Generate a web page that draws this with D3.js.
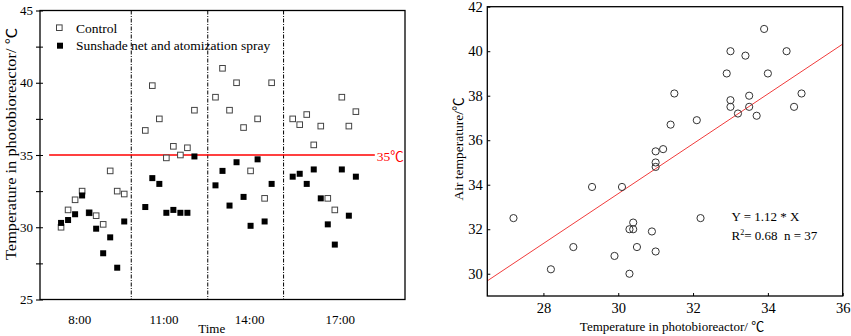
<!DOCTYPE html>
<html>
<head>
<meta charset="utf-8">
<script src="https://cdn.jsdelivr.net/npm/d3@7"></script>
<style>
  html, body { margin: 0; padding: 0; background: #fff; }
  svg { display: block; }
  text { font-family: "Liberation Serif", "Noto Sans CJK SC", serif; fill: #000; }
</style>
</head>
<body>
<div id="chart"></div>
<script>
// LEFT PANEL DATA (one array per time slot)
var timeLabels = ['8:00', '11:00', '14:00', '17:00'];
var timeTickAt = [2.6, 14.6, 26.8, 39.7];     // sample index under each label
var dividerAt = [10, 20.9, 31.7];             // dash-dot separators, sample index
var groupGap = 3;

var control = [
	[30.0, 31.2, 31.9, 32.5, 31.0, 30.8, 30.2, 33.9, 32.5, 32.3],
	[36.7, 39.8, 37.5, 34.8, 35.6, 35.0, 35.5, 38.1],
	[39.0, 41.0, 38.1, 40.0, 36.9, 33.9, 37.5, 32.0, 40.0],
	[37.5, 37.1, 37.8, 35.7, 37.0, 32.0, 31.2, 39.0, 37.0, 38.0]
];
var sunshade = [
	[30.3, 30.5, 30.9, 32.2, 31.0, 29.9, 28.2, 29.3, 27.2, 30.4],
	[31.4, 33.4, 33.0, 31.0, 31.2, 31.0, 31.0, 34.9],
	[32.9, 33.9, 31.5, 34.5, 32.1, 30.1, 34.7, 30.4, 33.0],
	[33.5, 33.7, 33.0, 34.0, 32.0, 30.2, 28.8, 34.0, 30.8, 33.5]
];
var threshold = 35;
var thresholdSpan = [-1.7, 44.7];

// RIGHT PANEL DATA
var photoTemp = [27.2, 28.2, 28.8, 29.3, 29.9, 30.1, 30.3, 30.3, 30.4, 30.4, 30.5, 30.9,
	31.0, 31.0, 31.0, 31.0, 31.2, 31.4, 31.5, 32.1, 32.2, 32.9, 33.0, 33.0, 33.0, 33.2,
	33.4, 33.5, 33.5, 33.7, 33.9, 34.0, 34.5, 34.7, 34.9];
var airTemp = [32.5, 30.2, 31.2, 33.9, 30.8, 33.9, 30.0, 32.0, 32.3, 32.0, 31.2, 31.9,
	31.0, 35.5, 35.0, 34.8, 35.6, 36.7, 38.1, 36.9, 32.5, 39.0, 40.0, 37.8, 37.5, 37.2,
	39.8, 38.0, 37.5, 37.1, 41.0, 39.0, 40.0, 37.5, 38.1];
var slope = 1.12;
var r2 = 0.68;
var nObs = 37;

var width = 851, height = 336;

var svg = d3.select('#chart').append('svg')
	.attr('width', width)
	.attr('height', height);

///////////////////////////////////////////
////////////// LEFT PANEL /////////////////
///////////////////////////////////////////
var xL = d3.scaleLinear().domain([-3, 49]).range([40, 405]);
var yL = d3.scaleLinear().domain([25, 45]).range([299.5, 10.5]);

// flatten groups into running sample index
var pts = [];
var idx = 0;
control.forEach(function(g, gi){
	g.forEach(function(v, i){
		pts.push({i: idx, control: v, sunshade: sunshade[gi][i]});
		idx++;
	});
	idx += groupGap - 1;
});

var left = svg.append('g');

var yAxisL = d3.axisLeft(yL)
	.tickValues(d3.range(25, 45.01, 2.5))
	.tickSize(4)
	.tickPadding(3)
	.tickFormat(function(d){ return d % 5 === 0 ? d : ''; });

left.append('g')
	.attr('transform', 'translate(40,0)')
	.call(yAxisL)
	.call(function(g){ g.select('.domain').remove(); })
	.call(function(g){ g.selectAll('text').style('font-size', '13px').attr('font-family', null); })
	.call(function(g){ g.selectAll('line').attr('stroke-width', 1.1); });

// inward ticks
left.append('g')
	.attr('transform', 'translate(40,0)')
	.call(d3.axisRight(yL).tickValues(d3.range(25, 45.01, 2.5)).tickSize(3).tickFormat(''))
	.call(function(g){ g.select('.domain').remove(); });

left.append('g')
	.attr('transform', 'translate(0,299.5)')
	.call(d3.axisBottom(xL).tickValues(timeTickAt).tickSize(0).tickPadding(15)
		.tickFormat(function(d, i){ return timeLabels[i]; }))
	.call(function(g){ g.select('.domain').remove(); })
	.call(function(g){ g.selectAll('text').style('font-size', '13px').attr('font-family', null); });

left.append('g').selectAll('line')
	.data(dividerAt)
	.enter().append('line')
	.attr('x1', function(d){ return xL(d); })
	.attr('x2', function(d){ return xL(d); })
	.attr('y1', yL(45))
	.attr('y2', yL(25))
	.attr('stroke', '#000')
	.attr('stroke-width', 1)
	.attr('stroke-dasharray', '4,1.5,1,1.5');

left.append('line')
	.attr('x1', xL(thresholdSpan[0]))
	.attr('x2', xL(thresholdSpan[1]))
	.attr('y1', yL(threshold))
	.attr('y2', yL(threshold))
	.attr('stroke', '#f00')
	.attr('stroke-width', 1.4);

left.append('text')
	.attr('x', xL(thresholdSpan[1]) + 2)
	.attr('y', yL(threshold) + 6)
	.style('font-size', '13.5px')
	.style('fill', '#f00')
	.text(threshold + '℃');

left.append('g').selectAll('rect')
	.data(pts)
	.enter().append('rect')
	.attr('x', function(d){ return xL(d.i) - 2.8; })
	.attr('y', function(d){ return yL(d.control) - 2.8; })
	.attr('width', 5.6)
	.attr('height', 5.6)
	.attr('fill', '#fff')
	.attr('stroke', '#444')
	.attr('stroke-width', 1);

left.append('g').selectAll('rect')
	.data(pts)
	.enter().append('rect')
	.attr('x', function(d){ return xL(d.i) - 3; })
	.attr('y', function(d){ return yL(d.sunshade) - 3; })
	.attr('width', 6)
	.attr('height', 6)
	.attr('fill', '#000');

left.append('rect')
	.attr('x', 40).attr('y', 10.5)
	.attr('width', 365).attr('height', 289)
	.attr('fill', 'none')
	.attr('stroke', '#000')
	.attr('stroke-width', 1.3);

// legend
var legend = left.append('g');
legend.append('rect')
	.attr('x', 56.5).attr('y', 24.9).attr('width', 5.6).attr('height', 5.6)
	.attr('fill', '#fff').attr('stroke', '#444');
legend.append('rect')
	.attr('x', 57).attr('y', 42.7).attr('width', 6).attr('height', 6)
	.attr('fill', '#000');
legend.append('text').attr('x', 76).attr('y', 32.5).style('font-size', '13.5px').text('Control');
legend.append('text').attr('x', 76).attr('y', 50.3).style('font-size', '13.5px').text('Sunshade net and atomization spray');

left.append('text')
	.attr('transform', 'translate(16,144) rotate(-90)')
	.attr('text-anchor', 'middle')
	.attr('textLength', 232)
	.attr('lengthAdjust', 'spacingAndGlyphs')
	.style('font-size', '14px')
	.text('Temperature in photobioreactor/ ℃');

left.append('text')
	.attr('x', 211.7).attr('y', 333)
	.attr('text-anchor', 'middle')
	.style('font-size', '13px')
	.text('Time');

///////////////////////////////////////////
////////////// RIGHT PANEL ////////////////
///////////////////////////////////////////
var xR = d3.scaleLinear().domain([26.5, 36]).range([487.3, 842.7]);
var yR = d3.scaleLinear().domain([29, 42]).range([296, 6.7]);

var right = svg.append('g');

right.append('g')
	.attr('transform', 'translate(0,296)')
	.call(d3.axisBottom(xR).tickValues([28, 30, 32, 34, 36]).tickSizeInner(-3).tickSizeOuter(0).tickPadding(7))
	.call(function(g){ g.select('.domain').remove(); })
	.call(function(g){ g.selectAll('text').style('font-size', '14.5px').attr('font-family', null); });

right.append('g')
	.attr('transform', 'translate(487.3,0)')
	.call(d3.axisLeft(yR).tickValues(d3.range(30, 42.01, 2)).tickSizeInner(-3).tickSizeOuter(0).tickPadding(4.5))
	.call(function(g){ g.select('.domain').remove(); })
	.call(function(g){ g.selectAll('text').style('font-size', '14.5px').attr('font-family', null); });

var fitX = xR.domain();
right.append('line')
	.attr('x1', xR(fitX[0])).attr('y1', yR(slope * fitX[0]))
	.attr('x2', xR(fitX[1])).attr('y2', yR(slope * fitX[1]))
	.attr('stroke', '#f03c3c')
	.attr('stroke-width', 1);

right.append('g').selectAll('circle')
	.data(photoTemp)
	.enter().append('circle')
	.attr('cx', function(d){ return xR(d); })
	.attr('cy', function(d, i){ return yR(airTemp[i]); })
	.attr('r', 3.6)
	.attr('fill', 'none')
	.attr('stroke', '#333')
	.attr('stroke-width', 1);

right.append('rect')
	.attr('x', 487.3).attr('y', 6.7)
	.attr('width', 355.4).attr('height', 289.3)
	.attr('fill', 'none')
	.attr('stroke', '#000')
	.attr('stroke-width', 1.3);

right.append('text')
	.attr('x', 731.5).attr('y', 221)
	.style('font-size', '13px')
	.style('white-space', 'pre')
	.text('Y = ' + slope + ' * X');

var r2Text = right.append('text')
	.attr('x', 731.5).attr('y', 239.5)
	.style('font-size', '13px')
	.style('white-space', 'pre');
r2Text.append('tspan').text('R');
r2Text.append('tspan').attr('dy', -5).style('font-size', '8px').text('2');
r2Text.append('tspan').attr('dy', 5).text('= ' + r2.toFixed(2) + '  n = ' + nObs);

right.append('text')
	.attr('transform', 'translate(463,149) rotate(-90)')
	.attr('text-anchor', 'middle')
	.style('font-size', '13.5px')
	.text('Air temperature/℃');

right.append('text')
	.attr('x', 672).attr('y', 331)
	.attr('text-anchor', 'middle')
	.style('font-size', '13px')
	.text('Temperature in photobioreactor/ ℃');
</script>
</body>
</html>
